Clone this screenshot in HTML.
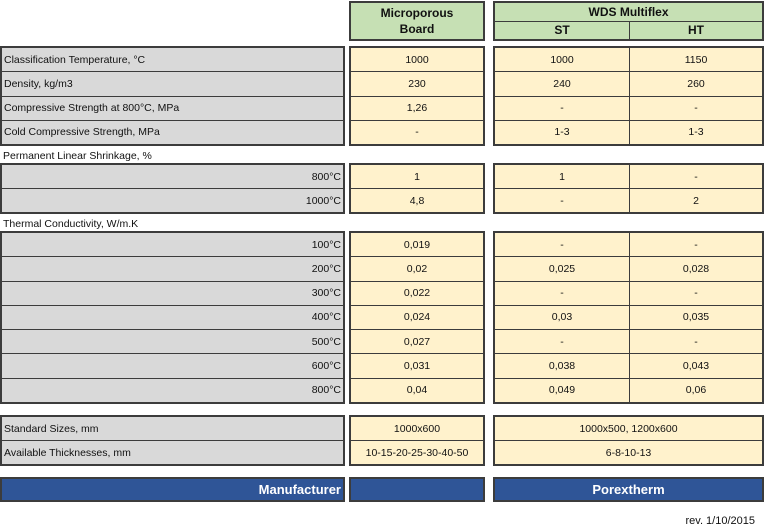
<!DOCTYPE html>
<html><head><meta charset="utf-8">
<style>
html,body{margin:0;padding:0;background:#fff;}
body{width:765px;height:529px;position:relative;overflow:hidden;font-family:"Liberation Sans",Arial,sans-serif;font-size:10.5px;color:#111;}
.box{position:absolute;box-sizing:border-box;border:2px solid #3c3c3c;display:flex;flex-direction:column;}
.r{flex:1;display:flex;border-top:1px solid #3c3c3c;min-height:0;}
.r:first-child{border-top:none;}
.c{flex:1;display:flex;align-items:center;justify-content:center;white-space:nowrap;}
.c.a{flex:0 0 134px;border-right:1px solid #3c3c3c;}
.g{background:#d9d9d9;}
.y{background:#fff2cc;}
.gr{background:#c6e0b4;}
.b{background:#2f5597;color:#fff;font-weight:bold;font-size:13px;}
.l .c{justify-content:flex-start;padding-left:2px;}
.rt .c{justify-content:flex-end;padding-right:2px;}
.h{font-weight:bold;font-size:12px;}
.lab{position:absolute;left:3px;white-space:nowrap;}
</style></head><body>

<!-- Header -->
<div class="box gr h" style="left:349px;top:1px;width:136px;height:40px;">
  <div class="r"><div class="c" style="flex-direction:column;line-height:16px;"><span>Microporous</span><span>Board</span></div></div>
</div>
<div class="box gr h" style="left:493px;top:1px;width:271px;height:40px;">
  <div class="r"><div class="c">WDS Multiflex</div></div>
  <div class="r"><div class="c a">ST</div><div class="c">HT</div></div>
</div>

<!-- Group 1 -->
<div class="box g l" style="left:0;top:46px;width:345px;height:100px;">
  <div class="r"><div class="c">Classification Temperature, °C</div></div>
  <div class="r"><div class="c">Density, kg/m3</div></div>
  <div class="r"><div class="c">Compressive Strength at 800°C, MPa</div></div>
  <div class="r"><div class="c">Cold Compressive Strength, MPa</div></div>
</div>
<div class="box y" style="left:349px;top:46px;width:136px;height:100px;">
  <div class="r"><div class="c">1000</div></div>
  <div class="r"><div class="c">230</div></div>
  <div class="r"><div class="c">1,26</div></div>
  <div class="r"><div class="c">-</div></div>
</div>
<div class="box y" style="left:493px;top:46px;width:271px;height:100px;">
  <div class="r"><div class="c a">1000</div><div class="c">1150</div></div>
  <div class="r"><div class="c a">240</div><div class="c">260</div></div>
  <div class="r"><div class="c a">-</div><div class="c">-</div></div>
  <div class="r"><div class="c a">1-3</div><div class="c">1-3</div></div>
</div>

<div class="lab" style="top:150px;">Permanent Linear Shrinkage, %</div>

<!-- Group 2 -->
<div class="box g rt" style="left:0;top:163px;width:345px;height:51px;">
  <div class="r"><div class="c">800°C</div></div>
  <div class="r"><div class="c">1000°C</div></div>
</div>
<div class="box y" style="left:349px;top:163px;width:136px;height:51px;">
  <div class="r"><div class="c">1</div></div>
  <div class="r"><div class="c">4,8</div></div>
</div>
<div class="box y" style="left:493px;top:163px;width:271px;height:51px;">
  <div class="r"><div class="c a">1</div><div class="c">-</div></div>
  <div class="r"><div class="c a">-</div><div class="c">2</div></div>
</div>

<div class="lab" style="top:218px;">Thermal Conductivity, W/m.K</div>

<!-- Group 3 -->
<div class="box g rt" style="left:0;top:231px;width:345px;height:173px;">
  <div class="r"><div class="c">100°C</div></div>
  <div class="r"><div class="c">200°C</div></div>
  <div class="r"><div class="c">300°C</div></div>
  <div class="r"><div class="c">400°C</div></div>
  <div class="r"><div class="c">500°C</div></div>
  <div class="r"><div class="c">600°C</div></div>
  <div class="r"><div class="c">800°C</div></div>
</div>
<div class="box y" style="left:349px;top:231px;width:136px;height:173px;">
  <div class="r"><div class="c">0,019</div></div>
  <div class="r"><div class="c">0,02</div></div>
  <div class="r"><div class="c">0,022</div></div>
  <div class="r"><div class="c">0,024</div></div>
  <div class="r"><div class="c">0,027</div></div>
  <div class="r"><div class="c">0,031</div></div>
  <div class="r"><div class="c">0,04</div></div>
</div>
<div class="box y" style="left:493px;top:231px;width:271px;height:173px;">
  <div class="r"><div class="c a">-</div><div class="c">-</div></div>
  <div class="r"><div class="c a">0,025</div><div class="c">0,028</div></div>
  <div class="r"><div class="c a">-</div><div class="c">-</div></div>
  <div class="r"><div class="c a">0,03</div><div class="c">0,035</div></div>
  <div class="r"><div class="c a">-</div><div class="c">-</div></div>
  <div class="r"><div class="c a">0,038</div><div class="c">0,043</div></div>
  <div class="r"><div class="c a">0,049</div><div class="c">0,06</div></div>
</div>

<!-- Group 4 -->
<div class="box g l" style="left:0;top:415px;width:345px;height:51px;">
  <div class="r"><div class="c">Standard Sizes, mm</div></div>
  <div class="r"><div class="c">Available Thicknesses, mm</div></div>
</div>
<div class="box y" style="left:349px;top:415px;width:136px;height:51px;">
  <div class="r"><div class="c">1000x600</div></div>
  <div class="r"><div class="c">10-15-20-25-30-40-50</div></div>
</div>
<div class="box y" style="left:493px;top:415px;width:271px;height:51px;">
  <div class="r"><div class="c">1000x500, 1200x600</div></div>
  <div class="r"><div class="c">6-8-10-13</div></div>
</div>

<!-- Group 5 -->
<div class="box b rt" style="left:0;top:477px;width:345px;height:25px;">
  <div class="r"><div class="c">Manufacturer</div></div>
</div>
<div class="box b" style="left:349px;top:477px;width:136px;height:25px;">
  <div class="r"><div class="c"></div></div>
</div>
<div class="box b" style="left:493px;top:477px;width:271px;height:25px;">
  <div class="r"><div class="c">Porextherm</div></div>
</div>

<div style="position:absolute;right:10px;top:515px;font-size:11px;white-space:nowrap;">rev. 1/10/2015</div>

</body></html>
